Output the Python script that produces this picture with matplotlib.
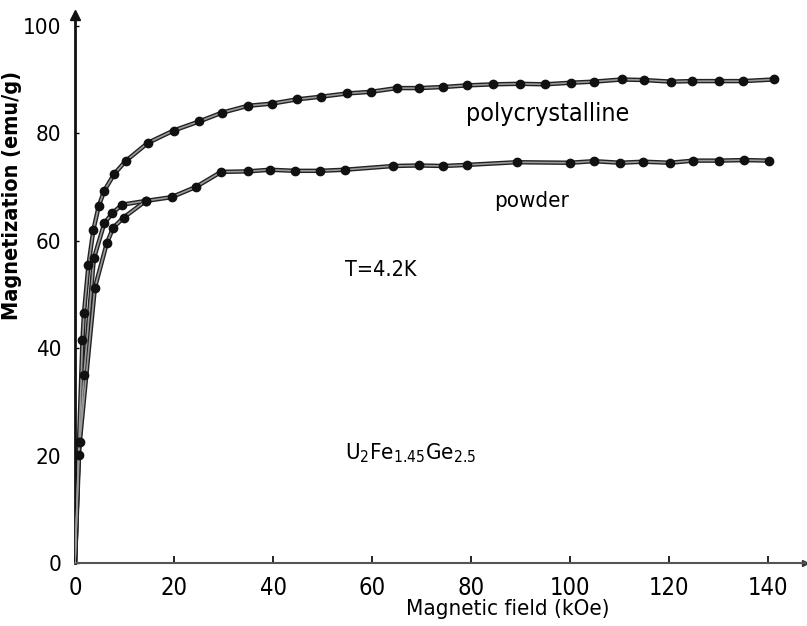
import numpy as np
import matplotlib.pyplot as plt

plt.rcParams['font.family'] = ['DejaVu Sans']
plt.rcParams['font.stretch'] = 'condensed'

# ~~~~~~~~~~~~~~~~~~~~~~~~~~~~~~~~~~~~~~~~~~~~~~~~~~~~~~~~~~~~~~~~~~~~~~~~~~~~~~~~~~~~~~~~
# magnetization curves, U2Fe1.45Ge2.5 at 4.2 K

field_poly = [0, 0.8, 1.5, 1.8, 2.7, 3.7, 4.8, 5.9, 7.9, 10.2, 14.7, 19.9, 25.1, 29.6,
              34.9, 39.7, 44.8, 49.7, 54.9, 59.7, 65.0, 69.5, 74.4, 79.1, 84.5, 89.8,
              94.9, 100.2, 104.8, 110.4, 114.9, 120.3, 124.6, 130.0, 134.9, 141.1]
mag_poly = [0, 22.6, 41.5, 46.5, 55.4, 62.0, 66.5, 69.3, 72.4, 74.8, 78.2, 80.5, 82.2, 83.8,
            85.1, 85.5, 86.3, 86.8, 87.4, 87.7, 88.4, 88.4, 88.6, 88.9, 89.1, 89.2,
            89.1, 89.4, 89.6, 90.0, 89.9, 89.6, 89.7, 89.7, 89.7, 90.0]

field_powder_a = [0, 0.9, 1.8, 3.8, 5.9, 7.5, 9.5, 14.3, 19.5, 24.4, 29.5, 34.9, 39.4,
                  44.4, 49.4, 54.5, 64.3, 69.4, 74.4, 79.1, 89.2, 100.0, 104.8, 110.1,
                  114.8, 120.2, 124.9, 130.1, 135.2, 140.1]
mag_powder_a = [0, 22.6, 35.0, 56.7, 63.2, 65.1, 66.7, 67.4, 68.1, 70.0, 72.8, 72.9, 73.2,
                73.0, 73.0, 73.2, 73.9, 74.0, 73.9, 74.1, 74.6, 74.5, 74.8, 74.5,
                74.7, 74.5, 74.9, 74.9, 75.0, 74.9]

field_powder_b = [0, 0.7, 4.0, 6.4, 7.7, 9.8, 14.3]
mag_powder_b = [0, 20.1, 51.2, 59.5, 62.4, 64.3, 67.4]

xticks = [0, 20, 40, 60, 80, 100, 120, 140]
yticks = [0, 20, 40, 60, 80, 100]

# ~~~~~~~~~~~~~~~~~~~~~~~~~~~~~~~~~~~~~~~~~~~~~~~~~~~~~~~~~~~~~~~~~~~~~~~~~~~~~~~~~~~~~~~~

def draw_curve(ax, x, y):
    # hand-inked look: dark outline, grey core, solid dots
    ax.plot(x, y, color='#222222', lw=3.2, solid_capstyle='round', zorder=2)
    ax.plot(x, y, color='#9a9a9a', lw=1.2, zorder=3)
    ax.plot(x[1:], y[1:], 'o', color='#111111', ms=6, zorder=4)

# ~~~~~~~~~~~~~~~~~~~~~~~~~~~~~~~~~~~~~~~~~~~~~~~~~~~~~~~~~~~~~~~~~~~~~~~~~~~~~~~~~~~~~~~~

fig = plt.figure(figsize=(8.07, 6.26), dpi=100)
ax = fig.add_axes([0.093, 0.1006, 0.905, 0.8754])

draw_curve(ax, field_powder_b, mag_powder_b)
draw_curve(ax, field_powder_a, mag_powder_a)
draw_curve(ax, field_poly, mag_poly)

ax.set_xlim(0, 147.5)
ax.set_ylim(0, 102)

for s in ['top', 'right']:
    ax.spines[s].set_visible(False)
ax.spines['left'].set_linewidth(2.0)
ax.spines['left'].set_color('#111111')
ax.spines['bottom'].set_linewidth(1.5)
ax.spines['bottom'].set_color('#555555')

# arrow heads at the axis ends
ax.plot(0, 1, '^', color='#111111', ms=7, transform=ax.transAxes, clip_on=False)
ax.plot(1, 0, '>', color='#333333', ms=5, transform=ax.transAxes, clip_on=False)

ax.set_xticks(xticks)
ax.set_yticks(yticks)
ax.tick_params(axis='x', direction='in', length=5, width=1.2, labelsize=17, pad=9)
ax.tick_params(axis='y', direction='in', length=3, width=1.0, labelsize=16, pad=10)

ax.set_xlabel('Magnetic field (kOe)', fontsize=16)
ax.xaxis.set_label_coords(0.592, -0.066)
ax.set_ylabel('Magnetization (emu/g)', fontsize=15.5, fontweight='bold')
ax.yaxis.set_label_coords(-0.072, 0.67)

ax.text(95.4, 83.5, 'polycrystalline', fontsize=18, ha='center', va='center')
ax.text(92.1, 67.3, 'powder', fontsize=16, ha='center', va='center')
ax.text(61.8, 54.5, 'T=4.2K', fontsize=15.5, ha='center', va='center')
ax.text(54.5, 20.5, r'U$_2$Fe$_{1.45}$Ge$_{2.5}$', fontsize=16, ha='left', va='center')

plt.savefig('out.png', dpi=100)
